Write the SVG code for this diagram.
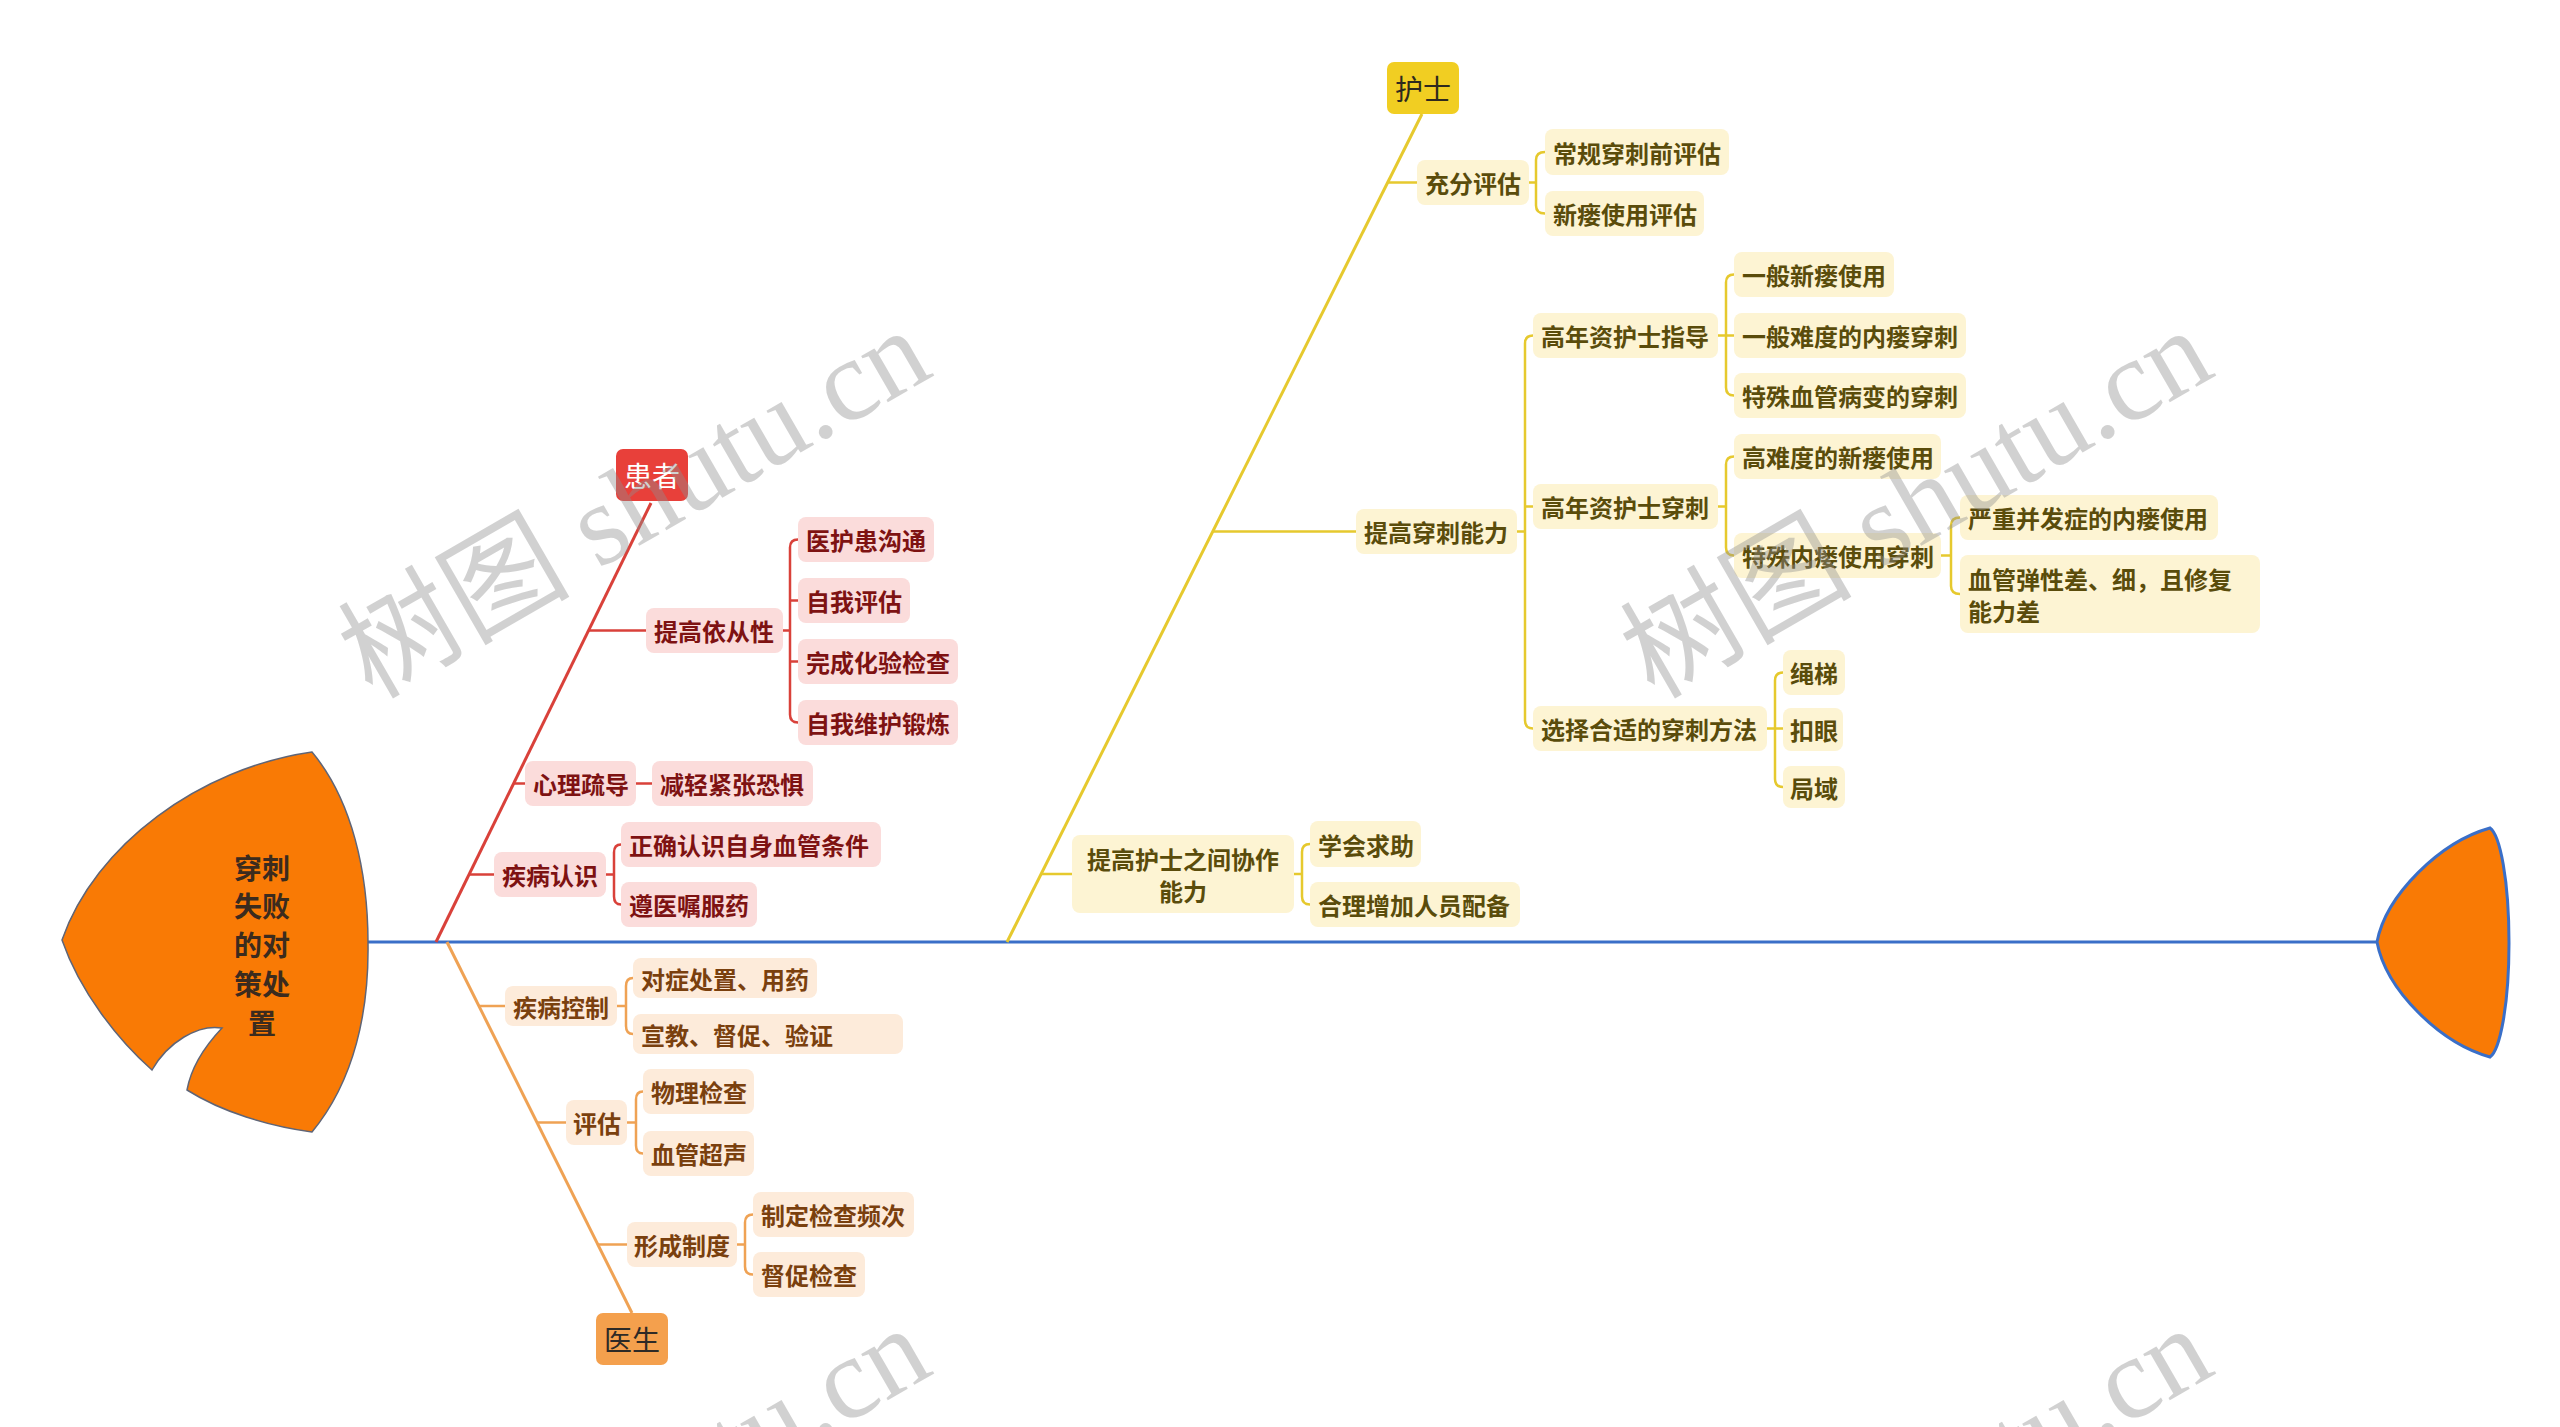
<svg xmlns="http://www.w3.org/2000/svg" width="2560" height="1427" viewBox="0 0 2560 1427">
<style>
text{font-family:"Noto Sans CJK SC","Noto Sans",sans-serif;dominant-baseline:central}
.n text{font-size:24px;font-weight:700}
.n rect{rx:8px}
.rn rect{fill:#FBDCDB}
.rn text{fill:#7E1212}
.on rect{fill:#FDEBDA}
.on text{fill:#7A400E}
.yn rect{fill:#FDF4D3}
.yn text{fill:#5A4C0B}
.tp text{font-size:28px;font-weight:400;text-anchor:middle}
.tp rect{rx:7px}
.c{fill:none;stroke-width:2.5}
.cr{stroke:#D9413A}
.co{stroke:#EFA254}
.cy{stroke:#E6C92E}
.main{stroke-width:3}
.wm{font-family:"Liberation Serif","Noto Sans CJK SC",serif;font-size:116px;fill:#8f8f8f;opacity:0.4;dominant-baseline:alphabetic}
</style>

<g id="connectors">
  <line x1="368" y1="942" x2="2377" y2="942" stroke="#3A6FC8" stroke-width="3"/>
  <path class="c cr main" d="M436,942 L651,503"/>
  <path class="c cr" d="M588,630.5 H646"/>
  <path class="c cr" d="M783,630.5 H790 M798,539.5 H798 Q790,539.5 790,547.5 V714.5 Q790,722.5 798,722.5 M790,600.5 H798 M790,661.5 H798"/>
  <path class="c cr" d="M513,783.5 H525 M636,783.5 H652"/>
  <path class="c cr" d="M469,874.5 H494 M606,874.5 H614 M621,844.5 Q614,844.5 614,852.5 V896.5 Q614,904.5 621,904.5"/>
  <path class="c co main" d="M447,942 L632,1313"/>
  <path class="c co" d="M479,1006 H505 M617,1006 H626 M633,978 Q626,978 626,986 V1026 Q626,1034 633,1034"/>
  <path class="c co" d="M537,1122.5 H566 M627,1122.5 H636 M643,1091.5 Q636,1091.5 636,1099.5 V1145.5 Q636,1153.5 643,1153.5"/>
  <path class="c co" d="M598,1244.5 H627 M737,1244.5 H745 M753,1214.5 Q745,1214.5 745,1222.5 V1266.5 Q745,1274.5 753,1274.5"/>
  <path class="c cy main" d="M1007,942 L1422,114"/>
  <path class="c cy" d="M1388,182.5 H1417 M1529,182.5 H1536 M1545,152 Q1536,152 1536,160 V205.5 Q1536,213.5 1545,213.5"/>
  <path class="c cy" d="M1213,531.5 H1356 M1517,531.5 H1525 M1533,335.5 Q1525,335.5 1525,343.5 V720.5 Q1525,728.5 1533,728.5 M1525,506.5 H1533"/>
  <path class="c cy" d="M1718,335.5 H1734 M1734,274.5 Q1726,274.5 1726,282.5 V387.5 Q1726,395.5 1734,395.5"/>
  <path class="c cy" d="M1718,506.5 H1726 M1734,456.5 Q1726,456.5 1726,464.5 V547.5 Q1726,555.5 1734,555.5"/>
  <path class="c cy" d="M1941,555.5 H1951 M1960,517.5 Q1951,517.5 1951,525.5 V586 Q1951,594 1960,594"/>
  <path class="c cy" d="M1767,728.5 H1783 M1783,672.5 Q1775,672.5 1775,680.5 V779 Q1775,787 1783,787"/>
  <path class="c cy" d="M1041,874 H1072 M1294,874 H1302 M1310,844 Q1302,844 1302,852 V896.5 Q1302,904.5 1310,904.5"/>
</g>

<g id="head">
  <path d="M312,752 C200,768 95,845 62,940 C80,992 118,1040 152,1070 C168,1042 198,1024 222,1028 C205,1046 191,1068 187,1090 C222,1112 268,1126 312,1132 C355,1080 369,1010 368,943 C368,872 352,800 312,752 Z" fill="#F97A05" stroke="#5F6577" stroke-width="1.5"/>
  <g font-size="28" font-weight="700" fill="#3B2B1E" text-anchor="middle">
    <text x="262" y="867">穿刺</text>
    <text x="262" y="905">失败</text>
    <text x="262" y="944">的对</text>
    <text x="262" y="983">策处</text>
    <text x="262" y="1022">置</text>
  </g>
</g>

<g id="tail">
  <path d="M2377,942 C2386,895 2440,842 2490,828 C2500,835 2509,880 2509,943 C2509,1005 2500,1050 2490,1057 C2440,1043 2386,990 2377,942 Z" fill="#F97A05" stroke="#3A6FC8" stroke-width="3"/>
</g>

<g id="patient" class="tp"><rect x="616" y="449" width="72" height="52" fill="#E8403A"/><text x="652" y="475" fill="#FFFFFF">患者</text></g>
<g id="p1" class="n rn"><rect x="646" y="608" width="137" height="45"/><text x="654" y="630.5">提高依从性</text></g>
<g id="p1a" class="n rn"><rect x="798" y="517" width="136" height="45"/><text x="806" y="539.5">医护患沟通</text></g>
<g id="p1b" class="n rn"><rect x="798" y="578" width="112" height="45"/><text x="806" y="600.5">自我评估</text></g>
<g id="p1c" class="n rn"><rect x="798" y="639" width="160" height="45"/><text x="806" y="661.5">完成化验检查</text></g>
<g id="p1d" class="n rn"><rect x="798" y="700" width="160" height="45"/><text x="806" y="722.5">自我维护锻炼</text></g>
<g id="p2" class="n rn"><rect x="525" y="761" width="111" height="45"/><text x="533" y="783.5">心理疏导</text></g>
<g id="p2a" class="n rn"><rect x="652" y="761" width="161" height="45"/><text x="660" y="783.5">减轻紧张恐惧</text></g>
<g id="p3" class="n rn"><rect x="494" y="852" width="112" height="45"/><text x="502" y="874.5">疾病认识</text></g>
<g id="p3a" class="n rn"><rect x="621" y="822" width="260" height="45"/><text x="629" y="844.5">正确认识自身血管条件</text></g>
<g id="p3b" class="n rn"><rect x="621" y="882" width="136" height="45"/><text x="629" y="904.5">遵医嘱服药</text></g>

<g id="doctor" class="tp"><rect x="596" y="1313" width="72" height="52" fill="#F4A04D"/><text x="632" y="1339" fill="#2E2A26">医生</text></g>
<g id="d1" class="n on"><rect x="505" y="986" width="112" height="40"/><text x="513" y="1006">疾病控制</text></g>
<g id="d1a" class="n on"><rect x="633" y="958" width="184" height="40"/><text x="641" y="978">对症处置、用药</text></g>
<g id="d1b" class="n on"><rect x="633" y="1014" width="270" height="40"/><text x="641" y="1034">宣教、督促、验证</text></g>
<g id="d2" class="n on"><rect x="566" y="1100" width="61" height="45"/><text x="573" y="1122.5">评估</text></g>
<g id="d2a" class="n on"><rect x="643" y="1069" width="111" height="45"/><text x="651" y="1091.5">物理检查</text></g>
<g id="d2b" class="n on"><rect x="643" y="1131" width="111" height="45"/><text x="651" y="1153.5">血管超声</text></g>
<g id="d3" class="n on"><rect x="627" y="1222" width="110" height="45"/><text x="634" y="1244.5">形成制度</text></g>
<g id="d3a" class="n on"><rect x="753" y="1192" width="161" height="45"/><text x="761" y="1214.5">制定检查频次</text></g>
<g id="d3b" class="n on"><rect x="753" y="1252" width="112" height="45"/><text x="761" y="1274.5">督促检查</text></g>

<g id="nurse" class="tp"><rect x="1387" y="62" width="72" height="52" fill="#F1CE22"/><text x="1423" y="88" fill="#2E2A1E">护士</text></g>
<g id="n1" class="n yn"><rect x="1417" y="160" width="112" height="45"/><text x="1425" y="182.5">充分评估</text></g>
<g id="n1a" class="n yn"><rect x="1545" y="129" width="184" height="46"/><text x="1553" y="152">常规穿刺前评估</text></g>
<g id="n1b" class="n yn"><rect x="1545" y="191" width="159" height="45"/><text x="1553" y="213.5">新瘘使用评估</text></g>
<g id="n2" class="n yn"><rect x="1356" y="509" width="161" height="45"/><text x="1364" y="531.5">提高穿刺能力</text></g>
<g id="n2a" class="n yn"><rect x="1533" y="313" width="185" height="45"/><text x="1541" y="335.5">高年资护士指导</text></g>
<g id="n2a1" class="n yn"><rect x="1734" y="252" width="160" height="45"/><text x="1742" y="274.5">一般新瘘使用</text></g>
<g id="n2a2" class="n yn"><rect x="1734" y="313" width="232" height="45"/><text x="1742" y="335.5">一般难度的内瘘穿刺</text></g>
<g id="n2a3" class="n yn"><rect x="1734" y="373" width="232" height="45"/><text x="1742" y="395.5">特殊血管病变的穿刺</text></g>
<g id="n2b" class="n yn"><rect x="1533" y="484" width="185" height="45"/><text x="1541" y="506.5">高年资护士穿刺</text></g>
<g id="n2b1" class="n yn"><rect x="1734" y="434" width="207" height="45"/><text x="1742" y="456.5">高难度的新瘘使用</text></g>
<g id="n2b2" class="n yn"><rect x="1734" y="533" width="207" height="45"/><text x="1742" y="555.5">特殊内瘘使用穿刺</text></g>
<g id="n2b2a" class="n yn"><rect x="1960" y="495" width="258" height="45"/><text x="1968" y="517.5">严重并发症的内瘘使用</text></g>
<g id="n2b2b" class="n yn"><rect x="1960" y="555" width="300" height="78"/><text x="1968" y="578">血管弹性差、细，且修复</text><text x="1968" y="610">能力差</text></g>
<g id="n2c" class="n yn"><rect x="1533" y="706" width="234" height="45"/><text x="1541" y="728.5">选择合适的穿刺方法</text></g>
<g id="n2c1" class="n yn"><rect x="1783" y="650" width="62" height="45"/><text x="1790" y="672.5">绳梯</text></g>
<g id="n2c2" class="n yn"><rect x="1783" y="708" width="60" height="43"/><text x="1790" y="729.5">扣眼</text></g>
<g id="n2c3" class="n yn"><rect x="1783" y="766" width="62" height="42"/><text x="1790" y="787">局域</text></g>
<g id="n3" class="n yn"><rect x="1072" y="835" width="222" height="78"/><text x="1183" y="858" text-anchor="middle">提高护士之间协作</text><text x="1183" y="890" text-anchor="middle">能力</text></g>
<g id="n3a" class="n yn"><rect x="1310" y="821" width="111" height="46"/><text x="1318" y="844">学会求助</text></g>
<g id="n3b" class="n yn"><rect x="1310" y="882" width="210" height="45"/><text x="1318" y="904.5">合理增加人员配备</text></g>

<g id="watermark">
  <text class="wm" transform="translate(372,700) rotate(-30)">树图 shutu.cn</text>
  <text class="wm" transform="translate(1654,700) rotate(-30)">树图 shutu.cn</text>
  <text class="wm" transform="translate(372,1698) rotate(-30)">树图 shutu.cn</text>
  <text class="wm" transform="translate(1654,1698) rotate(-30)">树图 shutu.cn</text>
</g>
</svg>
